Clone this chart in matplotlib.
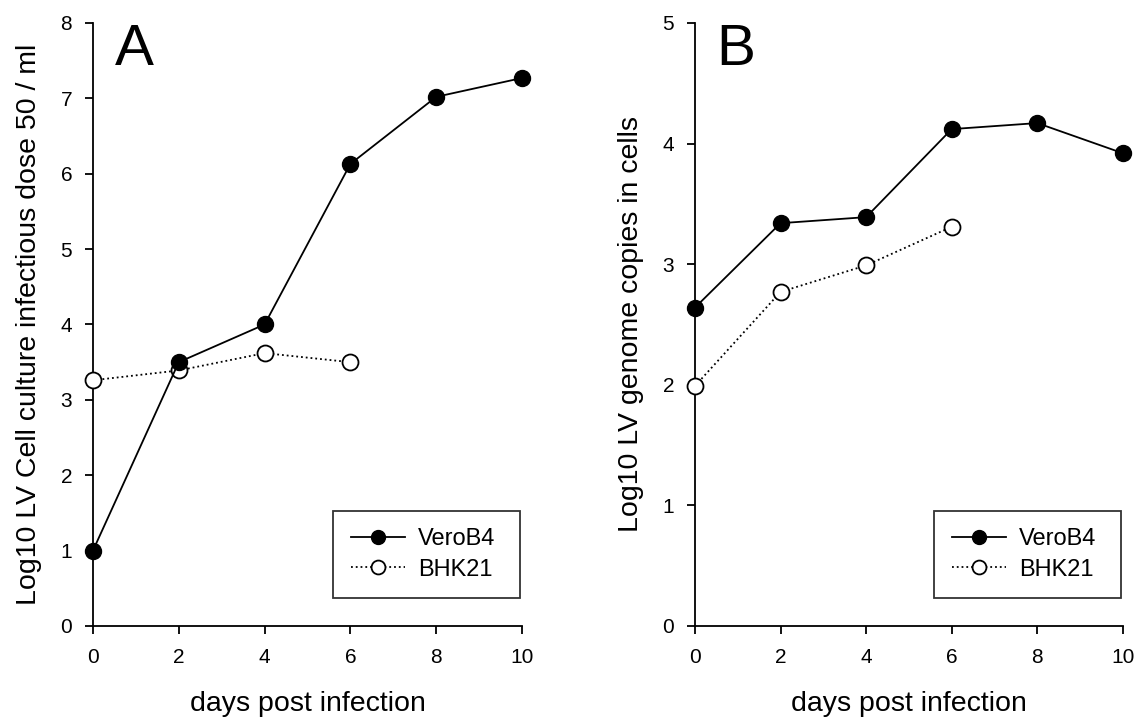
import matplotlib
matplotlib.use('Agg')
import matplotlib.pyplot as plt
from matplotlib.lines import Line2D

plt.rcParams['font.family'] = ['Liberation Sans', 'DejaVu Sans']

days = [0, 2, 4, 6, 8, 10]
days_bhk = [0, 2, 4, 6]

# panel A: infectious dose
vero_a = [1.0, 3.5, 4.0, 6.13, 7.02, 7.27]
bhk_a = [3.26, 3.39, 3.62, 3.5]

# panel B: genome copies
vero_b = [2.64, 3.34, 3.39, 4.12, 4.17, 3.92]
bhk_b = [1.99, 2.77, 2.99, 3.31]

fig = plt.figure(figsize=(11.38, 7.25), dpi=100)
ax1 = fig.add_axes([0.0817, 0.1366, 0.377, 0.8317])
ax2 = fig.add_axes([0.6107, 0.1366, 0.376, 0.8317])


def panel(ax, vero, bhk, ymax, ylabel, letter):
    ax.plot(days_bhk, bhk, ':', color='black', lw=1.3, marker='o', ms=11.5,
            mfc='white', mec='black', mew=1.3, clip_on=False, zorder=3)
    ax.plot(days, vero, '-', color='black', lw=1.3, marker='o', ms=11.5,
            mfc='black', mec='black', clip_on=False, zorder=4)
    ax.set_xlim(0, 10)
    ax.set_ylim(0, ymax)
    ax.set_xticks(days)
    ax.set_yticks(range(ymax + 1))
    for s in ['top', 'right']:
        ax.spines[s].set_visible(False)
    for s in ['left', 'bottom']:
        ax.spines[s].set_linewidth(1.3)
    ax.tick_params(direction='out', length=6, width=1.3, labelsize=15)
    ax.tick_params(axis='x', pad=10)
    ax.tick_params(axis='y', pad=9)
    ax.set_xlabel('days post infection', fontsize=20.5, labelpad=17)
    ax.set_ylabel(ylabel, fontsize=20.5, labelpad=13)
    ax.text(0.05, 1.0, letter, transform=ax.transAxes, fontsize=42,
            va='top', ha='left')
    handles = [
        Line2D([], [], color='black', lw=1.3, ls='-', marker='o', ms=10,
               mfc='black', mec='black'),
        Line2D([], [], color='black', lw=1.3, ls=':', marker='o', ms=10,
               mfc='white', mec='black', mew=1.3),
    ]
    leg = ax.legend(handles, ['VeroB4', 'BHK21'], loc='lower left',
                    bbox_to_anchor=(0.559, 0.046, 0.437, 0.15), mode='expand',
                    fontsize=17, frameon=True, fancybox=False,
                    edgecolor='black', handlelength=2.3, borderpad=0.75,
                    labelspacing=0.35, handletextpad=0.55, borderaxespad=0)
    leg.get_frame().set_linewidth(1.3)


panel(ax1, vero_a, bhk_a, 8, 'Log10 LV Cell culture infectious dose 50 / ml', 'A')
panel(ax2, vero_b, bhk_b, 5, 'Log10 LV genome copies in cells', 'B')

plt.savefig('out.png', dpi=100)
plt.close()
